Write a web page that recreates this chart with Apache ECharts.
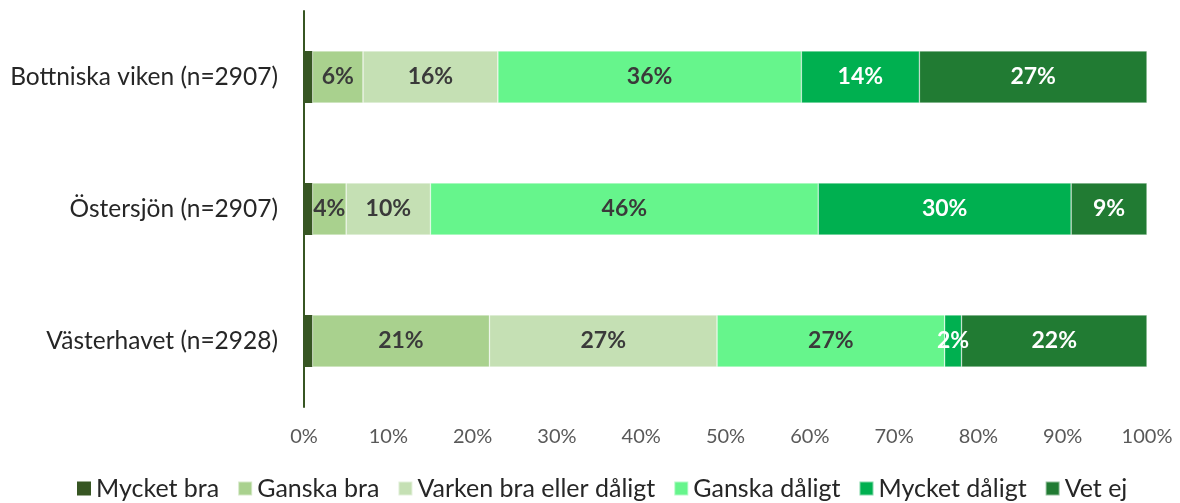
<!DOCTYPE html>
<html><head><meta charset="utf-8">
<script src="https://cdn.jsdelivr.net/npm/echarts@6/dist/echarts.min.js"></script>
<style>html,body{margin:0;padding:0;background:#fff}#c{width:1180px;height:503px}</style>
</head><body><div id="c"></div>
<script>
const categories = ['Bottniska viken (n=2907)', 'Östersjön (n=2907)', 'Västerhavet (n=2928)'];
const seriesNames = ['Mycket bra', 'Ganska bra', 'Varken bra eller dåligt', 'Ganska dåligt', 'Mycket dåligt', 'Vet ej'];
const mycketBra = [1, 1, 1];
const ganskaBra = [6, 4, 21];
const varken = [16, 10, 27];
const ganskaDaligt = [36, 46, 27];
const mycketDaligt = [14, 30, 2];
const vetEj = [27, 9, 22];
const xTicks = [0, 10, 20, 30, 40, 50, 60, 70, 80, 90, 100];

const values = [mycketBra, ganskaBra, varken, ganskaDaligt, mycketDaligt, vetEj];
const colors = ['#375623', '#A9D18E', '#C5E0B4', '#66F58C', '#00B050', '#217B33'];
const labelColors = [null, '#3a3a3a', '#3a3a3a', '#3a3a3a', '#ffffff', '#ffffff'];
const FONT = 'Lato, "Open Sans", sans-serif';

const series = seriesNames.map((name, i) => ({
  name, type: 'bar', stack: 'total', barWidth: 52,
  data: values[i],
  itemStyle: { color: colors[i], borderColor: 'rgba(255,255,255,0.5)', borderWidth: i === 0 ? 0 : 0.6 },
  label: {
    show: i !== 0, position: 'inside', formatter: p => p.value + '%',
    color: labelColors[i] || '#fff', fontWeight: 'bold', fontSize: 23, fontFamily: FONT
  },
  labelLayout: { hideOverlap: false },
  emphasis: { disabled: true }
}));

const chart = echarts.init(document.getElementById('c'), null, { renderer: 'canvas' });
chart.setOption({
  animation: false,
  grid: { left: 304, right: 33, top: 11, bottom: 96, containLabel: false },
  legend: {
    data: seriesNames, bottom: -3, left: 72, itemWidth: 14, itemHeight: 14, itemGap: 18,
    icon: 'rect', textStyle: { fontSize: 25, color: '#262626', fontFamily: FONT }
  },
  xAxis: {
    type: 'value', min: 0, max: 100, interval: 10,
    axisLabel: { formatter: v => xTicks.includes(v) ? v + '%' : '', fontSize: 20, color: '#595959', fontFamily: FONT, margin: 20 },
    splitLine: { show: false }, axisLine: { show: false }, axisTick: { show: false }
  },
  yAxis: {
    type: 'category', data: categories, inverse: true,
    axisLine: { show: true, lineStyle: { color: '#375623', width: 2 } },
    axisTick: { show: false },
    axisLabel: { fontSize: 24.5, color: '#262626', fontFamily: FONT, margin: 26 }
  },
  series
});
</script></body></html>
